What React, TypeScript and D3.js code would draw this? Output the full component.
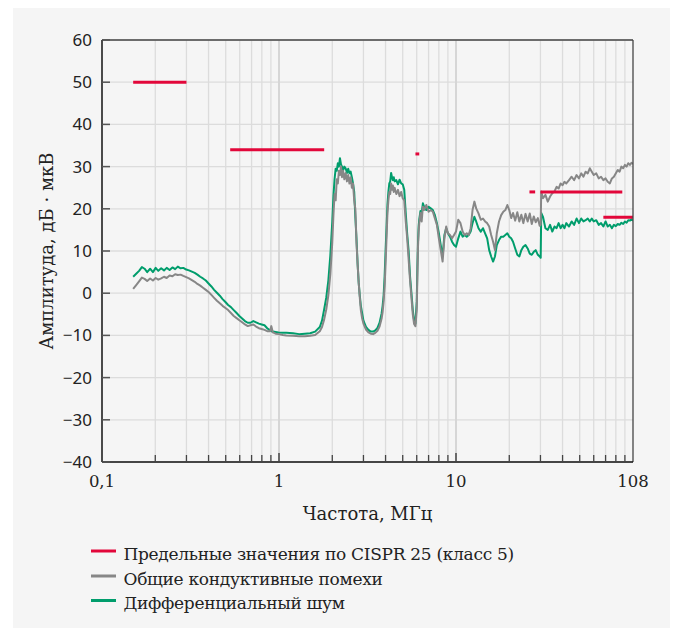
import React from "react";
import * as d3 from "d3";

// Frequency grid, MHz (shared by both measured traces)
const freqMHz: number[] = [
  0.150, 0.156, 0.162, 0.168, 0.174, 0.180, 0.187, 0.194, 0.201, 0.208,
  0.216, 0.224, 0.232, 0.241, 0.250, 0.259, 0.268, 0.278, 0.288, 0.299,
  0.310, 0.322, 0.334, 0.346, 0.359, 0.372, 0.386, 0.400, 0.415, 0.430,
  0.446, 0.463, 0.480, 0.498, 0.516, 0.535, 0.555, 0.576, 0.597, 0.619,
  0.642, 0.666, 0.690, 0.716, 0.742, 0.770, 0.798, 0.828, 0.858, 0.890,
  0.905, 0.923, 0.957, 0.993, 1.05, 1.1, 1.2, 1.3, 1.4, 1.5,
  1.6, 1.7, 1.75, 1.8, 1.85, 1.9, 1.95, 2.0, 2.03, 2.06,
  2.09, 2.12, 2.15, 2.18, 2.21, 2.24, 2.27, 2.30, 2.34, 2.38,
  2.42, 2.46, 2.50, 2.54, 2.58, 2.62, 2.66, 2.70, 2.74, 2.78,
  2.82, 2.86, 2.90, 2.95, 3.0, 3.1, 3.2, 3.3, 3.4, 3.5,
  3.6, 3.7, 3.8, 3.85, 3.9, 3.95, 4.0, 4.05, 4.1, 4.15,
  4.2, 4.25, 4.3, 4.35, 4.4, 4.45, 4.5, 4.6, 4.7, 4.8,
  4.9, 5.0, 5.1, 5.2, 5.3, 5.4, 5.5, 5.6, 5.7, 5.8,
  5.9, 6.0, 6.05, 6.1, 6.15, 6.2, 6.3, 6.4, 6.5, 6.6,
  6.8, 7.0, 7.2, 7.4, 7.6, 7.8, 8.0, 8.2, 8.4, 8.6,
  8.8, 9.0, 9.25, 9.5, 9.75, 10, 10.3, 10.6, 10.9, 11.2,
  11.5, 11.8, 12.1, 12.4, 12.7, 13.0, 13.4, 13.8, 14.2, 14.6,
  15.0, 15.4, 15.8, 16.2, 16.6, 17.0, 17.5, 18.0, 18.5, 19.0,
  19.5, 20, 20.5, 21, 21.6, 22.2, 22.8, 23.4, 24, 24.7,
  25.4, 26.1, 26.8, 27.5, 28.2, 29, 29.7, 30.1, 30.3, 31,
  32, 33, 34, 35, 36, 37, 38, 39, 40, 41,
  42, 43.5, 45, 46.5, 48, 49.5, 51, 52.5, 54, 55.5,
  57, 58.5, 60, 62, 64, 66, 68, 70, 72, 74,
  76, 78, 80, 82, 84, 86, 88, 90, 92, 94,
  96, 98, 100,
];

// Differential noise, dBµV (green)
const diffNoise: number[] = [
  3.9, 4.6, 5.3, 6.2, 5.8, 5.0, 5.8, 5.0, 6.0, 5.3,
  5.9, 5.4, 6.0, 5.5, 6.1, 5.7, 6.3, 5.9, 6.0, 5.6,
  5.4, 5.1, 4.8, 4.4, 3.9, 3.5, 3.0, 2.3, 1.6, 0.8,
  0.1, -0.6, -1.4, -2.1, -2.8, -3.3, -4.0, -4.7, -5.4, -6.0,
  -6.6, -7.0, -7.0, -6.6, -6.9, -7.2, -7.4, -7.6, -8.3, -8.8,
  -9.0, -9.1, -9.2, -9.3, -9.4, -9.4, -9.5, -9.7, -9.6, -9.5,
  -9.1, -8.0, -6.5, -3.8, -1.0, 3.0, 9.0, 17.0, 23.0, 27.0,
  29.5, 29.0, 30.8, 30.0, 32.0, 30.5, 30.0, 29.0, 30.0, 29.6,
  28.5, 29.5, 28.4, 28.8, 27.5, 26.0, 24.0, 18.0, 13.0, 7.0,
  2.5, -0.5, -3.0, -4.8, -6.5, -8.0, -8.7, -9.1, -9.1, -8.8,
  -8.2, -7.0, -4.8, -3.0, -0.5, 3.9, 10.0, 15.5, 21.0, 24.0,
  26.0, 26.5, 28.5, 27.5, 26.8, 27.5, 26.5, 26.8, 25.8, 26.9,
  26.0, 25.8, 24.5, 19.0, 14.0, 10.0, 4.0, 0.0, -4.0, -6.5,
  -7.2, -2.0, 6.0, 12.0, 15.8, 17.5, 19.5, 19.0, 21.3, 20.5,
  19.7, 20.5, 20.1, 19.7, 18.5, 16.6, 14.2, 11.4, 8.7, 13.8,
  15.4, 14.2, 13.4, 12.2, 11.4, 11.0, 13.0, 14.6, 13.4, 13.8,
  13.4, 13.8, 14.6, 16.6, 18.1, 17.0, 15.4, 14.6, 15.4, 14.2,
  13.0, 10.2, 8.7, 7.5, 8.7, 11.4, 12.6, 13.4, 13.4, 13.8,
  14.2, 13.4, 13.0, 12.2, 10.6, 9.1, 8.7, 10.2, 11.0, 11.4,
  10.6, 9.4, 9.1, 9.8, 10.2, 9.1, 8.7, 8.4, 19.0, 18.1,
  15.4, 15.0, 16.2, 14.6, 15.8, 15.4, 16.6, 15.4, 16.2, 15.4,
  16.6, 15.8, 17.0, 16.2, 17.7, 16.6, 17.7, 17.0, 17.3, 17.7,
  17.0, 17.7, 17.0, 17.3, 16.2, 16.6, 15.8, 17.0, 15.8, 16.2,
  15.4, 16.2, 15.9, 16.4, 16.2, 16.7, 16.4, 17.0, 16.7, 17.3,
  17.2, 17.5, 17.2,
];

// Total conducted emissions, dBµV (grey)
const totalNoise: number[] = [
  1.0, 1.9, 2.8, 3.7, 3.4, 2.9, 3.5, 3.0, 3.6, 3.2,
  3.5, 3.9, 3.6, 4.2, 4.0, 4.5, 4.3, 4.4, 4.1, 3.8,
  3.5, 3.1, 2.7, 2.2, 1.8, 1.3, 0.8, 0.3, -0.4, -1.1,
  -1.8, -2.4, -3.0, -3.5, -4.0, -4.7, -5.4, -5.9, -6.4, -6.9,
  -7.4, -7.8, -7.6, -7.4, -7.9, -8.3, -8.5, -8.7, -9.0, -9.0,
  -7.8, -9.3, -9.6, -9.7, -9.9, -10.0, -10.1, -10.2, -10.2, -10.1,
  -9.9, -9.0, -8.0, -6.2, -3.8, -0.5, 4.5, 12.0, 18.5, 23.5,
  22.0, 27.0, 26.0, 29.0, 28.0, 30.0, 27.5, 29.0, 27.0, 28.5,
  26.5, 28.0, 26.0, 27.5, 25.0, 26.0, 22.0, 20.0, 12.0, 7.0,
  2.5, -1.0, -4.0, -6.0, -7.2, -8.6, -9.3, -9.6, -9.7, -9.4,
  -8.9, -7.9, -6.0, -4.5, -2.0, 1.5, 7.0, 13.0, 19.0, 22.0,
  24.0, 23.5, 26.0, 24.5, 25.5, 24.0, 25.0, 23.5, 24.5, 23.0,
  24.0, 22.5, 22.0, 17.0, 13.0, 8.0, 3.0, -1.0, -5.0, -7.3,
  -7.8, -4.0, 4.0, 11.0, 14.5, 16.5, 19.0, 17.0, 20.5, 19.7,
  20.9, 19.3, 19.7, 19.3, 17.7, 16.2, 13.0, 10.2, 7.5, 13.0,
  15.8, 14.2, 13.8, 13.0, 13.8, 14.6, 17.4, 16.6, 14.6, 13.8,
  14.2, 13.8, 15.4, 19.7, 21.7, 20.1, 18.9, 17.4, 17.7, 17.0,
  16.6, 15.8, 13.8, 12.2, 10.2, 14.2, 17.0, 18.5, 19.3, 19.7,
  20.9, 19.7, 17.8, 19.0, 17.2, 19.2, 17.0, 18.6, 16.6, 18.8,
  17.0, 18.9, 16.4, 18.2, 16.8, 17.8, 16.0, 16.2, 24.1, 22.5,
  23.3, 21.7, 22.9, 23.7, 24.1, 25.2, 24.8, 26.0, 25.6, 26.4,
  26.0, 26.8, 27.6, 26.8, 28.0, 27.2, 28.4, 27.6, 28.8, 28.4,
  29.6, 28.8, 28.0, 28.4, 27.2, 27.6, 26.8, 27.2, 26.4, 26.0,
  27.2, 27.6, 28.4, 29.2, 28.8, 30.0, 29.6, 30.4, 30.0, 30.8,
  30.4, 30.9, 30.6,
];

// CISPR 25 class 5 limit segments
const limitStartMHz = [0.15, 0.53, 5.9, 26, 30, 68];
const limitEndMHz = [0.3, 1.8, 6.2, 28, 87, 108];
const limitLevel = [50, 34, 33, 24, 24, 18];

const yTicks = [60, 50, 40, 30, 20, 10, 0, -10, -20, -30, -40];
const xTickValues = [0.1, 1, 10, 100];
const xTickLabels = ["0,1", "1", "10", "108"];
const legendLabels = [
  "Предельные значения по CISPR 25 (класс 5)",
  "Общие кондуктивные помехи",
  "Дифференциальный шум",
];

const RED = "#e2073a";
const GREY = "#878787";
const GREEN = "#009d6c";
const SERIF = "'DejaVu Serif', serif";
const SANS = "'Noto Sans', sans-serif";

export default function App() {
  const left = 102, right = 633, top = 40, bottom = 462;
  const x = d3.scaleLog().domain([0.1, 100]).range([left, right]);
  const y = d3.scaleLinear().domain([-40, 60]).range([bottom, top]);

  const minorTicks: number[] = [];
  [0.1, 1, 10].forEach((d) => {
    for (let k = 2; k <= 9; k++) minorTicks.push(d * k);
  });

  const line = d3
    .line<number>()
    .x((_, i) => x(freqMHz[i]))
    .y((d) => y(d));

  const fmtY = (v: number) => (v < 0 ? "\u2212" + Math.abs(v) : String(v));
  const legendColors = [RED, GREY, GREEN];
  const legendY = [551, 576, 600.5];

  return (
    <svg
      width={676}
      height={628}
      style={{ position: "absolute", left: 0, top: 0 }}
    >
      <rect x={0} y={0} width={676} height={628} fill="#ffffff" />
      <rect x={13} y={8} width={657} height={620} fill="#f5f5f5" />
      <defs>
        <clipPath id="plotClip">
          <rect x={left} y={top} width={right - left} height={bottom - top} />
        </clipPath>
      </defs>

      {/* grid */}
      {yTicks.map((t) => (
        <line key={"gy" + t} x1={left} x2={right} y1={y(t)} y2={y(t)} stroke="#dcdcdc" strokeWidth={1.3} />
      ))}
      {minorTicks.map((t) => (
        <line key={"gx" + t} x1={x(t)} x2={x(t)} y1={top} y2={bottom} stroke="#dcdcdc" strokeWidth={1.3} />
      ))}
      {[1, 10].map((t) => (
        <line key={"gM" + t} x1={x(t)} x2={x(t)} y1={top} y2={bottom} stroke="#d6d6d6" strokeWidth={2} />
      ))}

      {/* traces */}
      <g clipPath="url(#plotClip)">
        <path d={line(diffNoise) || ""} fill="none" stroke={GREEN} strokeWidth={2} strokeLinejoin="round" />
        <path d={line(totalNoise) || ""} fill="none" stroke={GREY} strokeWidth={2} strokeLinejoin="round" />
        {limitLevel.map((lv, i) => (
          <line
            key={"lim" + i}
            x1={x(limitStartMHz[i])}
            x2={x(limitEndMHz[i])}
            y1={y(lv)}
            y2={y(lv)}
            stroke={RED}
            strokeWidth={3}
          />
        ))}
      </g>

      {/* frame */}
      <line x1={left} x2={right} y1={top} y2={top} stroke="#444" strokeWidth={1.3} />
      <line x1={right} x2={right} y1={top} y2={bottom} stroke="#444" strokeWidth={1.3} />
      <line x1={left} x2={left} y1={top} y2={bottom} stroke="#111" strokeWidth={1.5} />
      <line x1={left} x2={right} y1={bottom} y2={bottom} stroke="#111" strokeWidth={1.5} />

      {/* y ticks */}
      {yTicks.map((t) => (
        <g key={"yt" + t}>
          <line x1={left} x2={left + 8} y1={y(t)} y2={y(t)} stroke="#555" strokeWidth={1.5} />
          <text x={92} y={y(t)} dy="0.35em" textAnchor="end" fontFamily={SANS} fontSize={17} fill="#222">
            {fmtY(t)}
          </text>
        </g>
      ))}

      {/* x ticks */}
      {minorTicks.map((t) => (
        <line key={"xt" + t} x1={x(t)} x2={x(t)} y1={bottom} y2={bottom - 7} stroke="#444" strokeWidth={1.3} />
      ))}
      {[1, 10].map((t) => (
        <line key={"xM" + t} x1={x(t)} x2={x(t)} y1={bottom} y2={bottom - 9} stroke="#444" strokeWidth={1.5} />
      ))}
      {xTickValues.map((t, i) => (
        <text key={"xl" + t} x={x(t)} y={487} textAnchor="middle" fontFamily={SERIF} fontSize={16.5} fill="#222">
          {xTickLabels[i]}
        </text>
      ))}

      {/* axis titles */}
      <text x={(left + right) / 2} y={520} textAnchor="middle" fontFamily={SERIF} fontSize={18} fill="#222">
        Частота, МГц
      </text>
      <text
        transform={`translate(53, ${(top + bottom) / 2}) rotate(-90)`}
        textAnchor="middle"
        fontFamily={SERIF}
        fontSize={18}
        fill="#222"
      >
        Амплитуда, дБ · мкВ
      </text>

      {/* legend */}
      {legendLabels.map((lab, i) => (
        <g key={"lg" + i}>
          <line x1={91} x2={116} y1={legendY[i]} y2={legendY[i]} stroke={legendColors[i]} strokeWidth={3} />
          <text x={123.5} y={legendY[i] + 8.5} fontFamily={SERIF} fontSize={17} letterSpacing={-0.3} fill="#222">
            {lab}
          </text>
        </g>
      ))}
    </svg>
  );
}
